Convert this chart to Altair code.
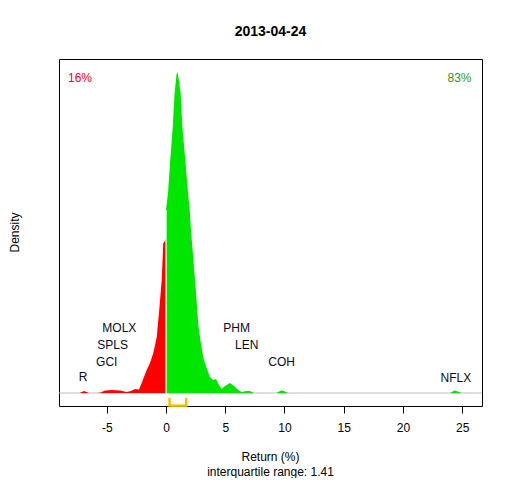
import altair as alt
import pandas as pd

# ---- data ----
red_x = [-7.71, -7.3, -7.1, -6.92, -6.7, -6.5, -5.8, -5.5, -5.15, -4.56, -3.88, -3.32, -2.95,
         -2.62, -2.28, -2.05, -1.86, -1.63, -1.35, -1.07, -0.78, -0.57, -0.36, -0.23, -0.1, 0.0]
red_y = [0, 0, 0.002, 0.004, 0.002, 0, 0, 0.001, 0.005, 0.006, 0.005, 0.002, 0.004,
         0.008, 0.007, 0.020, 0.032, 0.046, 0.060, 0.080, 0.112, 0.166, 0.226, 0.300, 0.304, 0.310]

green_x = [0.0, 0.17, 0.36, 0.57, 0.73, 0.88, 0.95, 1.02, 1.24, 1.38, 1.63, 1.86, 2.0, 2.11,
           2.30, 2.53, 2.73, 2.93, 3.15, 3.43, 3.71, 3.97, 4.22, 4.47, 4.70, 4.98, 5.40, 5.74,
           6.08, 6.41, 6.75, 7.09, 7.43, 9.3, 9.55, 9.76, 10.04, 10.3, 23.97, 24.2, 24.39,
           24.73, 24.98, 25.3]
green_y = [0.366, 0.400, 0.466, 0.532, 0.600, 0.636, 0.642, 0.636, 0.600, 0.532, 0.466, 0.400,
           0.366, 0.326, 0.270, 0.202, 0.136, 0.102, 0.070, 0.050, 0.032, 0.026, 0.028, 0.016,
           0.008, 0.014, 0.020, 0.014, 0.006, 0.002, 0.004, 0.004, 0, 0, 0.003, 0.0054, 0.003,
           0, 0, 0.003, 0.005, 0.002, 0, 0]

label_text = ["R", "GCI", "SPLS", "MOLX", "PHM", "LEN", "COH", "NFLX"]
label_x = [-6.99, -5.0, -4.5, -3.94, 5.96, 6.81, 9.76, 24.47]
label_y = [0.032, 0.063, 0.097, 0.131, 0.131, 0.097, 0.063, 0.030]

pct_text = ["16%", "83%"]
pct_x = [-7.26, 24.77]
pct_y = [0.631, 0.631]

q1, q3 = 0.30, 1.71
x_ticks = [-5, 0, 5, 10, 15, 20, 25]

title_text = "2013-04-24"
x_title = "Return (%)"
x_subtitle = "interquartile range: 1.41"
y_title = "Density"

FONT = "Liberation Sans"
W, H = 423, 347
xs = alt.Scale(domain=[-9.03, 26.67], nice=False, zero=False)
ys = alt.Scale(domain=[-0.026, 0.668], nice=False, zero=False)

red_df = pd.DataFrame({"x": red_x, "y": red_y})
green_df = pd.DataFrame({"x": green_x, "y": green_y})
lab_df = pd.DataFrame({"t": label_text, "x": label_x, "y": label_y})
pct_df = pd.DataFrame({"t": pct_text, "x": pct_x, "y": pct_y, "c": ["red", "green"]})

base_line = alt.Chart(pd.DataFrame({"y": [0.0]})).mark_rule(color="#BEBEBE", strokeWidth=1).encode(
    y=alt.Y("y:Q", scale=ys, axis=None), x=alt.value(0), x2=alt.value(W))

xaxis = alt.Axis(values=x_ticks, title=None, domain=False, grid=False, tickSize=7,
                 tickColor="black", labelColor="black", labelFont=FONT, labelFontSize=12,
                 labelPadding=9, labelExpr="'' + datum.value")

red_area = alt.Chart(red_df).mark_area(color="#FF0000", interpolate="linear").encode(
    x=alt.X("x:Q", scale=xs, axis=xaxis),
    y=alt.Y("y:Q", scale=ys, axis=None))
green_area = alt.Chart(green_df).mark_area(color="#00E600", interpolate="linear").encode(
    x=alt.X("x:Q", scale=xs), y=alt.Y("y:Q", scale=ys))

sep = alt.Chart(pd.DataFrame({"x": [0.0], "y": [0.0], "y2": [0.366]})).mark_rule(
    color="white", strokeWidth=1.3).encode(
    x=alt.X("x:Q", scale=xs), y=alt.Y("y:Q", scale=ys), y2="y2:Q")

iqr_v = alt.Chart(pd.DataFrame({"x": [q1, q3], "y": [-0.0095, -0.0095], "y2": [-0.0255, -0.0255]})).mark_rule(
    color="#F5C400", strokeWidth=2.5).encode(
    x=alt.X("x:Q", scale=xs), y=alt.Y("y:Q", scale=ys), y2="y2:Q")
iqr_h = alt.Chart(pd.DataFrame({"x": [q1 - 0.1], "x2": [q3 + 0.1], "y": [-0.0252]})).mark_rule(
    color="#F5C400", strokeWidth=2.5).encode(
    x=alt.X("x:Q", scale=xs), x2="x2:Q", y=alt.Y("y:Q", scale=ys))

labels = alt.Chart(lab_df).mark_text(font=FONT, fontSize=12, color="#0a0a1e",
                                     baseline="middle", align="center").encode(
    x=alt.X("x:Q", scale=xs), y=alt.Y("y:Q", scale=ys), text="t:N")

pcts = alt.Chart(pct_df).mark_text(font=FONT, fontSize=12, baseline="middle", align="center").encode(
    x=alt.X("x:Q", scale=xs), y=alt.Y("y:Q", scale=ys), text="t:N",
    color=alt.Color("c:N", scale=alt.Scale(domain=["red", "green"], range=["#FF0000", "#1E9A1E"]),
                    legend=None))

txt = pd.DataFrame({"t": [0]})
title_m = alt.Chart(txt).mark_text(text=title_text, font=FONT, fontSize=14, fontWeight="bold",
                                   color="black", baseline="middle", align="center").encode(
    x=alt.value(W / 2), y=alt.value(-27.3))
xt1 = alt.Chart(txt).mark_text(text=x_title, font=FONT, fontSize=12, color="black",
                               baseline="middle", align="center").encode(
    x=alt.value(W / 2), y=alt.value(398.3))
xt2 = alt.Chart(txt).mark_text(text=x_subtitle, font=FONT, fontSize=12, color="black",
                               baseline="middle", align="center").encode(
    x=alt.value(W / 2), y=alt.value(413.0))
yt = alt.Chart(txt).mark_text(text=y_title, font=FONT, fontSize=12, color="black", angle=270,
                              baseline="middle", align="center").encode(
    x=alt.value(-44), y=alt.value(H / 2))

chart = alt.layer(base_line, red_area, green_area, sep, iqr_v, iqr_h, labels, pcts,
                  title_m, xt1, xt2, yt).properties(
    width=W, height=H,
    autosize=alt.AutoSizeParams(type="none"),
    padding={"left": 51, "top": 51, "right": 22, "bottom": 72},
    background="white",
).configure_view(stroke="black", strokeWidth=1)

chart.save("out.html", embed_options={"renderer": "svg", "actions": False})
